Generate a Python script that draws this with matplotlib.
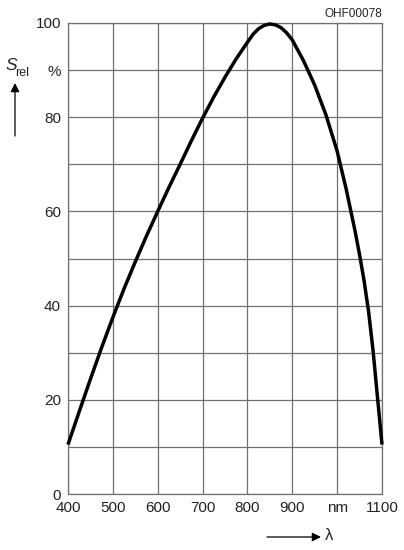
import numpy as np
import matplotlib.pyplot as plt

plt.rcParams['font.family'] = ['Liberation Sans', 'DejaVu Sans']

# spectral sensitivity
wavelength = [400, 425, 450, 475, 500, 525, 550, 575, 600, 625, 650, 675,
              700, 725, 750, 775, 800, 812.5, 825, 837.5, 850, 862.5, 875,
              887.5, 900, 925, 950, 975, 1000, 1020, 1040, 1050, 1060, 1070,
              1080, 1090, 1100]
s_rel = [10.5, 17.5, 24.4, 31.1, 37.5, 43.6, 49.3, 54.8, 60, 65.1, 70, 75,
         79.8, 84.3, 88.5, 92.4, 95.9, 97.6, 98.8, 99.5, 99.8, 99.6, 99.0,
         97.9, 96.4, 92.0, 86.8, 80.5, 72.8, 64.8, 55.8, 50.8, 45.3, 38.8,
         30.5, 20.5, 10.5]

x_ticks = [400, 500, 600, 700, 800, 900, 1000, 1100]
x_labels = ['400', '500', '600', '700', '800', '900', 'nm', '1100']
y_ticks = [0, 10, 20, 30, 40, 50, 60, 70, 80, 90, 100]
y_labels = ['0', '', '20', '', '40', '', '60', '', '80', '%', '100']

fig = plt.figure(figsize=(4.04, 5.5), dpi=100)
ax = fig.add_axes([68 / 404, 1 - 494 / 550, 314 / 404, 471 / 550])

ax.plot(wavelength, s_rel, color='black', lw=2.5,
        solid_joinstyle='round', solid_capstyle='butt', clip_on=False, zorder=3)

ax.set_xlim(400, 1100)
ax.set_ylim(0, 100)
ax.set_xticks(x_ticks)
ax.set_xticklabels(x_labels)
ax.set_yticks(y_ticks)
ax.set_yticklabels(y_labels)
ax.tick_params(length=0, labelsize=11, colors='#222222', pad=5)
ax.grid(True, color='#707070', lw=0.9)
for sp in ax.spines.values():
    sp.set_color('#707070')
    sp.set_linewidth(0.9)

# axis labels with arrows
fig.text(5 / 404, 1 - 70 / 550, 'S', fontsize=12.5, style='italic',
         color='#222222', va='baseline')
fig.text(15.5 / 404, 1 - 76 / 550, 'rel', fontsize=9, color='#222222', va='baseline')
fig.add_artist(plt.Annotation('', xy=(15 / 404, 1 - 83 / 550), xycoords='figure fraction',
                              xytext=(15 / 404, 1 - 136 / 550), textcoords='figure fraction',
                              arrowprops=dict(arrowstyle='-|>', color='black', lw=0.9,
                                              mutation_scale=13, shrinkA=0, shrinkB=0)))
fig.add_artist(plt.Annotation('', xy=(321 / 404, 1 - 537 / 550), xycoords='figure fraction',
                              xytext=(267 / 404, 1 - 537 / 550), textcoords='figure fraction',
                              arrowprops=dict(arrowstyle='-|>', color='black', lw=0.9,
                                              mutation_scale=13, shrinkA=0, shrinkB=0)))
fig.text(325 / 404, 1 - 536 / 550, 'λ', fontsize=12, color='#222222', va='center')

fig.text(382 / 404, 1 - 14 / 550, 'OHF00078', fontsize=8.5, color='#222222',
         ha='right', va='center')

fig.savefig('out.png', dpi=100)
